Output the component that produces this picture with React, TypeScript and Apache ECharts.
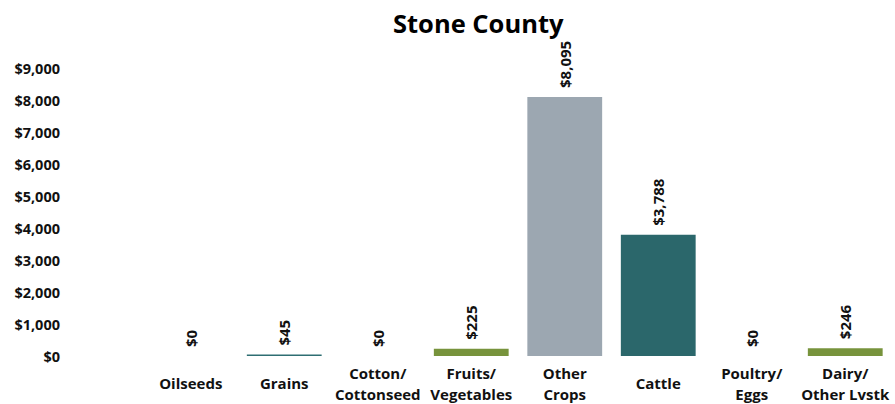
import React, { useEffect, useRef } from "react";
import * as echarts from "echarts";

const categories = ["Oilseeds", "Grains", "Cotton/\nCottonseed", "Fruits/\nVegetables", "Other\nCrops", "Cattle", "Poultry/\nEggs", "Dairy/\nOther Lvstk"];
const values = [0, 45, 0, 225, 8095, 3788, 0, 246];
const colors = ["#2e6e72", "#2e6e72", "#77933c", "#77933c", "#9ca7b1", "#2b676b", "#77933c", "#77933c"];

const fmt = (v: number) => "$" + v.toLocaleString("en-US");

export default function App() {
  const ref = useRef<HTMLDivElement>(null);
  useEffect(() => {
    const chart = echarts.init(ref.current!, null, { renderer: "svg" });
    chart.setOption({
      animation: false,
      title: {
        text: "Stone County",
        left: 388,
        top: 5,
        textStyle: { fontFamily: "Open Sans", fontWeight: "bold", fontSize: 25.5, color: "#000" },
      },
      grid: { left: 144, right: 3, top: 68, bottom: 46 },
      xAxis: {
        type: "category",
        data: categories,
        axisLine: { show: false },
        axisTick: { show: false },
        axisLabel: {
          interval: 0,
          margin: 27,
          verticalAlign: "middle",
          lineHeight: 21,
          fontFamily: "Open Sans",
          fontWeight: "bold",
          fontSize: 15,
          color: "#111",
        },
      },
      yAxis: {
        type: "value",
        min: 0,
        max: 9000,
        interval: 1000,
        splitLine: { show: false },
        axisLine: { show: false },
        axisLabel: {
          margin: 84,
          formatter: (v: number) => fmt(v),
          fontFamily: "Open Sans",
          fontWeight: "bold",
          fontSize: 14.5,
          color: "#111",
        },
      },
      series: [
        {
          type: "bar",
          barCategoryGap: "20%",
          data: values.map((v, i) => ({ value: v, itemStyle: { color: colors[i] } })),
          label: {
            show: true,
            position: "top",
            rotate: 90,
            align: "left",
            verticalAlign: "middle",
            distance: 9,
            formatter: (p: any) => fmt(p.value),
            fontFamily: "Open Sans",
            fontWeight: "bold",
            fontSize: 15,
            color: "#111",
          },
        },
      ],
    });
    return () => chart.dispose();
  }, []);
  return <div ref={ref} style={{ width: 895, height: 404, position: "absolute", left: 0, top: 0 }} />;
}
